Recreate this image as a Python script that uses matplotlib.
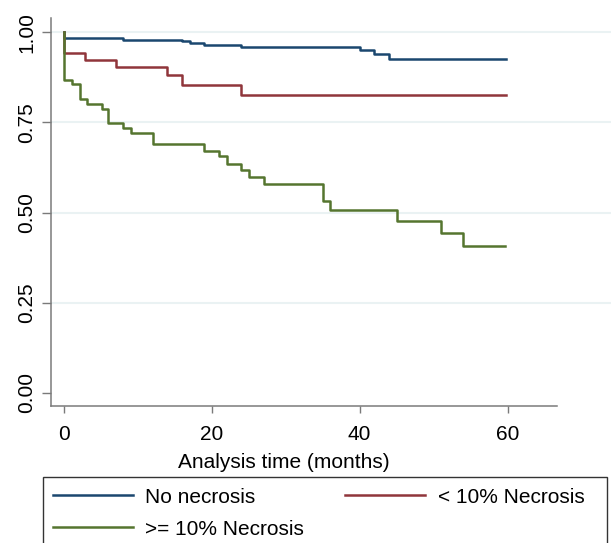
import matplotlib
matplotlib.use("Agg")
import matplotlib.pyplot as plt
from matplotlib.patches import Rectangle

# Kaplan-Meier estimates (time in months, survival)
t_none = [0, 0, 8, 16, 17, 19, 24, 40, 42, 44, 59.8]
s_none = [1.0, 0.984, 0.980, 0.975, 0.970, 0.966, 0.960, 0.951, 0.939, 0.925, 0.925]

t_low = [0, 0, 2.9, 7, 14, 16, 24, 59.8]
s_low = [1.0, 0.943, 0.924, 0.904, 0.881, 0.855, 0.825, 0.825]

t_high = [0, 0, 1.1, 2.1, 3.1, 5.1, 6, 8, 9, 12, 19, 21, 22, 24, 25, 27,
          35, 36, 45, 51, 54, 59.6]
s_high = [1.0, 0.869, 0.857, 0.814, 0.802, 0.788, 0.748, 0.734, 0.720, 0.689,
          0.672, 0.656, 0.636, 0.618, 0.598, 0.580, 0.531, 0.507, 0.476,
          0.443, 0.408, 0.408]

labels = ["No necrosis", "< 10% Necrosis", ">= 10% Necrosis"]
colors = ["#1a476f", "#90353b", "#55752f"]

x_ticks = [0, 20, 40, 60]
y_ticks = [0.0, 0.25, 0.5, 0.75, 1.0]

plt.rcParams['font.family'] = ['Liberation Sans', 'DejaVu Sans']
plt.rcParams['font.size'] = 15

W, H = 611, 543
fig = plt.figure(figsize=(W / 100, H / 100), dpi=100)
ax = fig.add_axes([51 / W, 137 / H, 1.0 - 51 / W, (406 - 18) / H])

for y in y_ticks[1:]:
    ax.axhline(y, color="#eaf2f3", lw=1.5, zorder=0)

l1, = ax.step(t_none, s_none, where="post", color=colors[0], lw=1.8, label=labels[0])
l2, = ax.step(t_low, s_low, where="post", color=colors[1], lw=1.8, label=labels[1])
l3, = ax.step(t_high, s_high, where="post", color=colors[2], lw=1.8, label=labels[2])

ax.set_xlim(-1.76, 74.0)
ax.set_ylim(-0.037, 1.040)
ax.set_xticks(x_ticks)
ax.set_yticks(y_ticks)
ax.set_yticklabels(["%.2f" % v for v in y_ticks], rotation=90, va="center")

for side in ["top", "right"]:
    ax.spines[side].set_visible(False)
for side in ["left", "bottom"]:
    ax.spines[side].set_color("#7a7a7a")
    ax.spines[side].set_linewidth(1.1)
ax.spines["bottom"].set_bounds(-1.76, 66.7)
ax.tick_params(axis="y", length=6.5, width=1.0, color="#7a7a7a", pad=4)
ax.tick_params(axis="x", length=5, width=1.0, color="#7a7a7a", pad=9)

fig.text(284 / W, (H - 463) / H, "Analysis time (months)", ha="center", va="center")

# legend box runs off the bottom of the image, as in the original
fig.patches.append(Rectangle((43 / W, -0.05), (607 - 43) / W, (H - 477) / H + 0.05,
                             transform=fig.transFigure, fill=False,
                             edgecolor="#333333", lw=1.0))

fig.legend([l1, l3, l2], [labels[0], labels[2], labels[1]], ncol=2,
           loc="upper left", bbox_to_anchor=(44.4 / W, (H - 484.7) / H, (593 - 44.4) / W, 0.01),
           mode="expand", frameon=False, handlelength=3.85,
           handletextpad=0.6, labelspacing=0.62, borderpad=0.4, borderaxespad=0)

fig.savefig("out.png", dpi=100)
